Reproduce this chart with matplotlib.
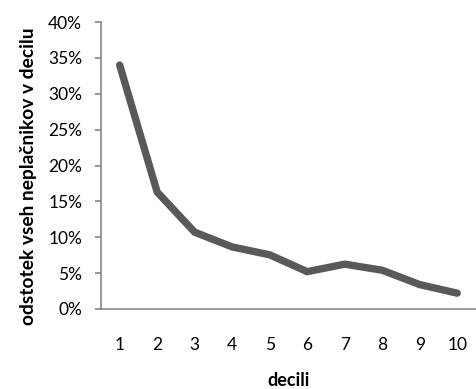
import matplotlib.pyplot as plt
from matplotlib.ticker import FuncFormatter

# share of all defaulters in each income decile
decili = [1, 2, 3, 4, 5, 6, 7, 8, 9, 10]
odstotek = [34.0, 16.3, 10.7, 8.65, 7.55, 5.2, 6.25, 5.4, 3.4, 2.2]

plt.rcParams['font.family'] = ['Lato', 'DejaVu Sans']

fig = plt.figure(figsize=(4.76, 3.89), dpi=100)
ax = fig.add_axes([0.212, 0.2057, 0.788, 0.7377])

ax.plot(decili, odstotek, color='#595959', linewidth=5.3, solid_capstyle='round',
        solid_joinstyle='miter')

ax.set_xlim(0.5, 10.5)
ax.set_ylim(0, 40)
ax.set_yticks(range(0, 41, 5))
ax.yaxis.set_major_formatter(FuncFormatter(lambda v, p: f"{v:.0f}%"))
ax.set_xticks(decili)

for side in ('top', 'right'):
    ax.spines[side].set_visible(False)
for side in ('left', 'bottom'):
    ax.spines[side].set_color('#868686')
    ax.spines[side].set_linewidth(1.2)

ax.tick_params(axis='y', direction='out', length=4.5, width=1.2, color='#868686',
               labelsize=12.5, pad=9)
ax.tick_params(axis='x', length=0, labelsize=12.5, pad=20)

ax.set_xlabel('decili', fontsize=13, fontweight='bold', labelpad=14)
ax.set_ylabel('odstotek vseh neplačnikov v decilu', fontsize=13.8,
              fontweight='bold')
ax.yaxis.set_label_coords(-0.17, 0.463)

fig.savefig('out.png', dpi=100)
